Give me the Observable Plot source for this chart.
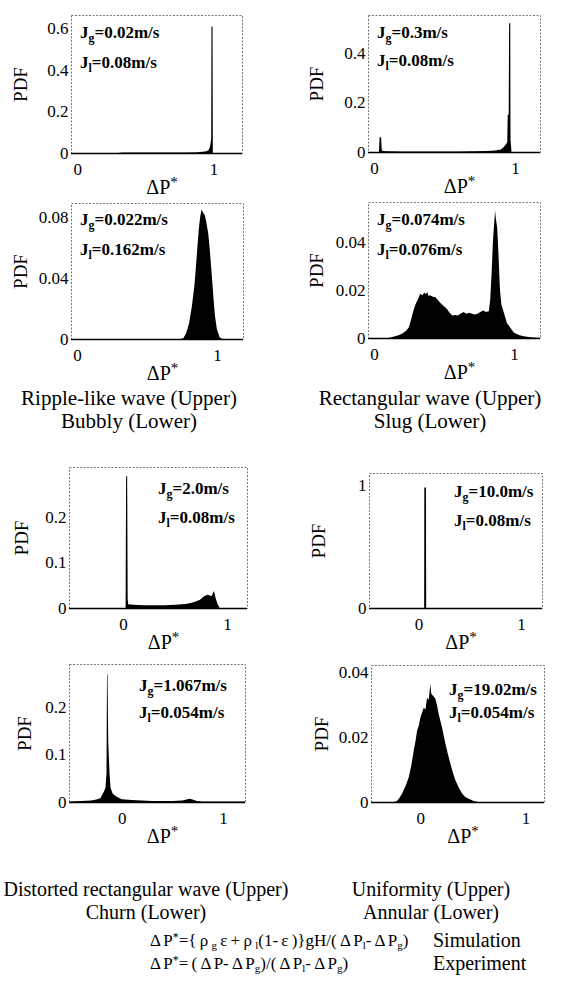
<!DOCTYPE html>
<html><head><meta charset="utf-8">
<script src="https://cdn.jsdelivr.net/npm/d3@7"></script>
<script src="https://cdn.jsdelivr.net/npm/@observablehq/plot@0.6"></script>
<style>
body{margin:0;background:#fff}
#fig{position:relative;width:565px;height:983px;font-family:"Liberation Serif","Times New Roman",serif;color:#000;overflow:hidden;background:#fff}
.panel{position:absolute;overflow:visible}
.ann{position:absolute;font-weight:bold;font-size:17px;line-height:17px;white-space:nowrap}
.ann sub{font-size:0.7em;vertical-align:-0.3em;line-height:0}
.cap{position:absolute;font-size:21px;line-height:21px;white-space:nowrap;transform:translateX(-50%)}
.eq{position:absolute;font-size:17px;line-height:19px;white-space:nowrap;word-spacing:-1px}
.lab{position:absolute;font-size:20px;line-height:19px;white-space:nowrap}
.eq sub{font-size:0.65em;vertical-align:-0.25em;line-height:0}
.eq sup{font-size:0.7em;vertical-align:0.45em;line-height:0}
</style></head><body><div id="fig"></div>
<script>
// ---- data ----
const p1X = [-0.04, 0.30, 0.33, 0.40, 0.50, 0.60, 0.70, 0.80, 0.88, 0.92, 0.95, 0.965, 0.975, 0.98, 0.984, 0.986, 0.994, 0.996, 1.0, 1.2];
const p1Y = [0, 0, 0.002, 0.003, 0.002, 0.002, 0.003, 0.003, 0.004, 0.006, 0.009, 0.015, 0.03, 0.05, 0.07, 0.61, 0.61, 0, 0, 0];

const p2X = [-0.04, 0.035, 0.04, 0.05, 0.055, 0.06, 0.1, 0.2, 0.3, 0.4, 0.5, 0.6, 0.7, 0.8, 0.86, 0.9, 0.92, 0.935, 0.945, 0.948, 0.955, 0.958, 0.966, 0.968, 0.975, 1.2];
const p2Y = [0, 0, 0.06, 0.06, 0.01, 0.004, 0.003, 0.002, 0.002, 0.002, 0.002, 0.002, 0.003, 0.004, 0.006, 0.01, 0.02, 0.03, 0.04, 0.15, 0.15, 0.52, 0.52, 0.05, 0, 0];

const p3X = [-0.04, 0.74, 0.76, 0.78, 0.80, 0.82, 0.84, 0.855, 0.87, 0.88, 0.89, 0.90, 0.914, 0.925, 0.938, 0.95, 0.962, 0.975, 0.986, 1.0, 1.02, 1.04, 1.2];
const p3Y = [0, 0, 0.0005, 0.004, 0.01, 0.021, 0.036, 0.054, 0.072, 0.080, 0.085, 0.083, 0.081, 0.076, 0.069, 0.057, 0.043, 0.027, 0.015, 0.006, 0.001, 0, 0];

const p4X = [-0.04, 0.10, 0.13, 0.17, 0.20, 0.23, 0.25, 0.27, 0.28, 0.29, 0.30, 0.31, 0.32, 0.33, 0.345, 0.36, 0.37, 0.38, 0.39, 0.40, 0.42, 0.44, 0.46, 0.48, 0.50, 0.52, 0.54, 0.56, 0.58, 0.60, 0.62, 0.64, 0.66, 0.68, 0.70, 0.72, 0.74, 0.76, 0.78, 0.80, 0.82, 0.83, 0.84, 0.85, 0.86, 0.865, 0.87, 0.88, 0.89, 0.90, 0.91, 0.93, 0.95, 0.97, 1.0, 1.04, 1.08, 1.12, 1.2];
const p4Y = [0, 0, 0.0004, 0.001, 0.0018, 0.003, 0.0046, 0.0088, 0.011, 0.013, 0.0145, 0.0157, 0.017, 0.0185, 0.0178, 0.019, 0.0182, 0.0192, 0.0175, 0.0178, 0.0172, 0.017, 0.0155, 0.0143, 0.0132, 0.0122, 0.0105, 0.0094, 0.0096, 0.0094, 0.0102, 0.0108, 0.0101, 0.0105, 0.0101, 0.0098, 0.0101, 0.0108, 0.0115, 0.0108, 0.0112, 0.0157, 0.0268, 0.0407, 0.049, 0.0532, 0.050, 0.046, 0.034, 0.020, 0.014, 0.0101, 0.0062, 0.0046, 0.0022, 0.0011, 0.0006, 0.0003, 0];

const p5X = [-0.52, 0.025, 0.03, 0.04, 0.045, 0.05, 0.1, 0.2, 0.3, 0.4, 0.5, 0.6, 0.65, 0.7, 0.74, 0.77, 0.79, 0.81, 0.83, 0.85, 0.86, 0.875, 0.89, 0.91, 0.93, 1.2];
const p5Y = [0, 0, 0.289, 0.289, 0.02, 0.008, 0.007, 0.006, 0.006, 0.006, 0.007, 0.009, 0.011, 0.014, 0.018, 0.024, 0.027, 0.029, 0.028, 0.026, 0.03, 0.037, 0.022, 0.008, 0, 0];

const p6X = [-0.49, 0.054, 0.056, 0.072, 0.074, 1.2];
const p6Y = [0, 0, 0.98, 0.98, 0, 0];

const p7X = [-0.52, -0.4, -0.3, -0.25, -0.21, -0.18, -0.16, -0.15, -0.145, -0.14, -0.133, -0.128, -0.12, -0.11, -0.09, -0.07, -0.04, 0, 0.1, 0.2, 0.3, 0.4, 0.5, 0.6, 0.64, 0.67, 0.7, 0.74, 0.8, 0.9, 1.0, 1.1, 1.22];
const p7Y = [0.001, 0.002, 0.003, 0.005, 0.008, 0.02, 0.03, 0.06, 0.265, 0.27, 0.13, 0.1, 0.06, 0.03, 0.018, 0.014, 0.01, 0.006, 0.004, 0.003, 0.002, 0.002, 0.002, 0.003, 0.005, 0.007, 0.005, 0.002, 0.001, 0.001, 0.001, 0.001, 0.001];

const p8X = [-0.47, -0.25, -0.222, -0.2, -0.174, -0.14, -0.11, -0.085, -0.063, -0.045, -0.031, -0.015, 0, 0.016, 0.032, 0.048, 0.064, 0.08, 0.095, 0.103, 0.111, 0.127, 0.143, 0.16, 0.175, 0.19, 0.206, 0.222, 0.238, 0.26, 0.286, 0.31, 0.333, 0.365, 0.397, 0.43, 0.461, 0.508, 0.55, 1.18];
const p8Y = [0, 0, 0.0003, 0.0012, 0.0026, 0.005, 0.0077, 0.0115, 0.0159, 0.019, 0.022, 0.0235, 0.026, 0.0275, 0.029, 0.0285, 0.032, 0.0315, 0.0364, 0.0335, 0.033, 0.0325, 0.0318, 0.0295, 0.027, 0.025, 0.023, 0.0205, 0.018, 0.015, 0.0118, 0.009, 0.0067, 0.0045, 0.0026, 0.0015, 0.001, 0.0003, 0, 0];

const xTicks = [0, 1];
const yTicks = [[0, 0.2, 0.4, 0.6], [0, 0.2, 0.4], [0, 0.04, 0.08], [0, 0.02, 0.04], [0, 0.1, 0.2], [0, 1], [0, 0.1, 0.2], [0, 0.02, 0.04]];
const xDomains = [[-0.045, 1.21], [-0.0425, 1.177], [-0.043, 1.186], [-0.043, 1.186], [-0.519, 1.192], [-0.485, 1.206], [-0.52, 1.217], [-0.47, 1.177]];
const yDomains = [[0, 0.665], [0, 0.553], [0, 0.0892], [0, 0.0567], [0, 0.309], [0, 1.098], [0, 0.29], [0, 0.0422]];
const jgLabels = ["0.02", "0.3", "0.022", "0.074", "2.0", "10.0", "1.067", "19.02"];
const jlLabels = ["0.08", "0.08", "0.162", "0.076", "0.08", "0.08", "0.054", "0.054"];
const capUpper = ["Ripple-like wave (Upper)", "Rectangular wave (Upper)", "Distorted rectangular wave (Upper)", "Uniformity (Upper)"];
const capLower = ["Bubbly (Lower)", "Slug (Lower)", "Churn (Lower)", "Annular (Lower)"];
const seriesX = [p1X, p2X, p3X, p4X, p5X, p6X, p7X, p8X];
const seriesY = [p1Y, p2Y, p3Y, p4Y, p5Y, p6Y, p7Y, p8Y];

// ---- layout (frame rectangles in page pixels) ----
const frames = [
  {L:71, R:242, T:15, B:153, pdf:51, ax:80, ab:[38,68]},
  {L:368, R:540, T:15, B:152, pdf:52, ax:377, ab:[38,66]},
  {L:71, R:243, T:203, B:339, pdf:51, ax:80, ab:[225,255]},
  {L:368, R:540, T:202, B:338, pdf:52, ax:377, ab:[225,255]},
  {L:69, R:247, T:467, B:608, pdf:48, ax:158, ab:[494,523]},
  {L:369, R:542, T:473, B:608, pdf:51, ax:454, ab:[497,526]},
  {L:69, R:245, T:664, B:802, pdf:45, ax:139, ab:[691,718]},
  {L:371, R:544, T:665, B:802, pdf:50, ax:449, ab:[695,718]}
];

const fig = document.getElementById("fig");
const NS = "http://www.w3.org/2000/svg";
const mL = 64, mR = 10, mT = 10, mB = 60;

frames.forEach((f, i) => {
  const data = seriesX[i].map((x, k) => ({x, y: seriesY[i][k]}));
  const W = (f.R - f.L) + mL + mR, H = (f.B - f.T) + mT + mB;
  const svg = Plot.plot({
    width: W, height: H,
    marginLeft: mL, marginRight: mR, marginTop: mT, marginBottom: mB,
    style: {fontFamily: "'Liberation Serif','Times New Roman',serif", fontSize: "17px", color: "#000", background: "transparent", overflow: "visible"},
    x: {domain: xDomains[i]},
    y: {domain: yDomains[i]},
    marks: [
      Plot.areaY(data, {x: "x", y: "y", fill: "#000", curve: "linear"}),
      Plot.frame({stroke: "#777", strokeWidth: 1, strokeDasharray: "2,1.5"}),
      Plot.ruleY([0], {stroke: "#000", strokeWidth: 1.3}),
      Plot.axisX({ticks: xTicks, tickSize: 0, tickPadding: 9, label: null, tickFormat: d => String(d)}),
      Plot.axisY({ticks: yTicks[i], tickSize: 0, tickPadding: 3, label: null, tickFormat: d => String(d)}),
      Plot.text(["PDF"], {frameAnchor: "left", dx: -f.pdf, rotate: -90, fontSize: 19, textAnchor: "middle", lineAnchor: "middle"}),
      Plot.text(["ΔP*"], {frameAnchor: "bottom", dy: 34, dx: 5, fontSize: 20, textAnchor: "middle", lineAnchor: "middle"})
    ]
  });
  svg.querySelectorAll("text").forEach(t => {
    if (t.textContent === "ΔP*") {
      t.textContent = "ΔP";
      const s = document.createElementNS(NS, "tspan");
      s.setAttribute("dy", "-0.45em");
      s.setAttribute("font-size", "0.75em");
      s.textContent = "*";
      t.appendChild(s);
    }
  });
  svg.classList.add("panel");
  svg.style.left = (f.L - mL) + "px";
  svg.style.top = (f.T - mT) + "px";
  fig.appendChild(svg);

  const a1 = document.createElement("div");
  a1.className = "ann";
  a1.style.left = f.ax + "px"; a1.style.top = (f.ab[0] - 14) + "px";
  a1.innerHTML = "J<sub>g</sub>=" + jgLabels[i] + "m/s";
  fig.appendChild(a1);
  const a2 = document.createElement("div");
  a2.className = "ann";
  a2.style.left = f.ax + "px"; a2.style.top = (f.ab[1] - 14) + "px";
  a2.innerHTML = "J<sub>l</sub>=" + jlLabels[i] + "m/s";
  fig.appendChild(a2);
});

const capX = [129, 430, 146, 431];
const capYU = [388, 388, 879, 879];
const capYL = [411, 411, 902, 902];
const capSize = [21, 21, 20, 20];
capUpper.forEach((c, i) => {
  const d1 = document.createElement("div");
  d1.className = "cap"; d1.textContent = c;
  d1.style.left = capX[i] + "px"; d1.style.top = capYU[i] + "px";
  d1.style.fontSize = capSize[i] + "px";
  fig.appendChild(d1);
  const d2 = document.createElement("div");
  d2.className = "cap"; d2.textContent = capLower[i];
  d2.style.left = capX[i] + "px"; d2.style.top = capYL[i] + "px";
  d2.style.fontSize = capSize[i] + "px";
  fig.appendChild(d2);
});

const eqs = [
  {cls: "eq", left: 150, top: 931, html: "Δ P<sup>*</sup>={ ρ <sub>g</sub> ε + ρ <sub>l</sub>(1- ε )}gH/( Δ P<sub>l</sub>- Δ P<sub>g</sub>)"},
  {cls: "lab", left: 433, top: 931, html: "Simulation"},
  {cls: "eq", left: 150, top: 954, html: "Δ P<sup>*</sup>= ( Δ P- Δ P<sub>g</sub>)/( Δ P<sub>l</sub>- Δ P<sub>g</sub>)"},
  {cls: "lab", left: 433, top: 954, html: "Experiment"}
];
eqs.forEach(e => {
  const d = document.createElement("div");
  d.className = e.cls; d.innerHTML = e.html;
  d.style.left = e.left + "px"; d.style.top = e.top + "px";
  fig.appendChild(d);
});
</script>
</body></html>
